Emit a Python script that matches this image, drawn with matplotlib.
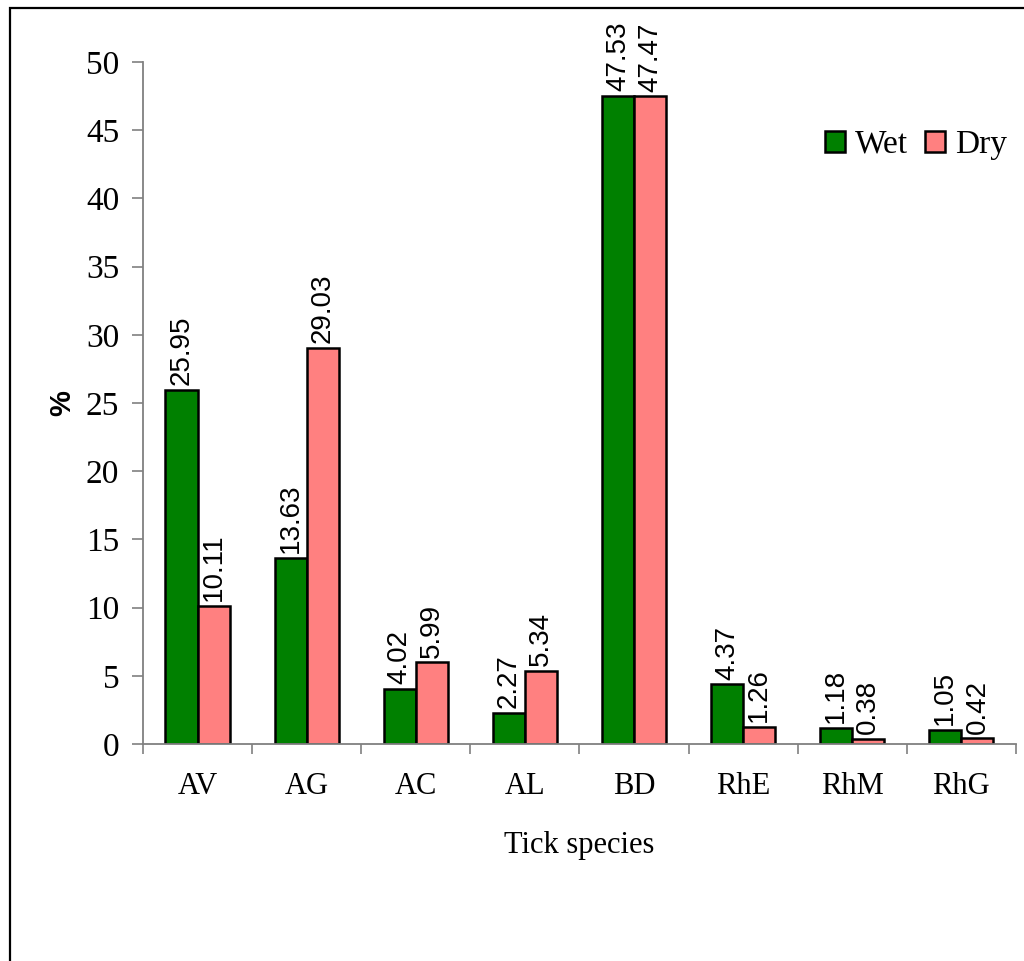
import numpy as np
import matplotlib.pyplot as plt
from matplotlib.patches import Rectangle

# Tick species prevalence by season
species = ['AV', 'AG', 'AC', 'AL', 'BD', 'RhE', 'RhM', 'RhG']
wet = [25.95, 13.63, 4.02, 2.27, 47.53, 4.37, 1.18, 1.05]
dry = [10.11, 29.03, 5.99, 5.34, 47.47, 1.26, 0.38, 0.42]

serif = 'Liberation Serif'
sans = 'Liberation Sans'

fig = plt.figure(figsize=(10.24, 9.61), dpi=100)
ax = fig.add_axes([0.1396, 0.2258, 0.8525, 0.7097])

centers = np.arange(len(species)) + 0.5
w = 0.294
ax.bar(centers - w / 2, wet, w, color='#008000', edgecolor='black', linewidth=1.8, label='Wet')
ax.bar(centers + w / 2, dry, w, color='#FF8080', edgecolor='black', linewidth=1.8, label='Dry')

# value labels above each bar
for x, v in zip(centers - w / 2, wet):
    ax.text(x, v + 0.35, f'{v:.2f}', rotation=90, ha='center', va='bottom',
            fontsize=20, family=sans)
for x, v in zip(centers + w / 2, dry):
    ax.text(x, v + 0.35, f'{v:.2f}', rotation=90, ha='center', va='bottom',
            fontsize=20, family=sans)

ax.set_xlim(0, len(species))
ax.set_ylim(0, 50)
ax.set_yticks(np.arange(0, 51, 5))
ax.set_yticklabels([str(t) for t in range(0, 51, 5)], family=serif, fontsize=24)
ax.tick_params(axis='y', length=8, width=1.2, color='#808080', pad=9)

# boundary ticks on the category axis, labels centred between them
ax.set_xticks(np.arange(len(species) + 1))
ax.set_xticklabels([])
ax.tick_params(axis='x', which='major', length=7, width=1.2, color='#808080')
ax.set_xticks(centers, minor=True)
ax.set_xticklabels(species, minor=True, family=serif, fontsize=22)
ax.tick_params(axis='x', which='minor', length=0, pad=20)

for s in ['top', 'right']:
    ax.spines[s].set_visible(False)
for s in ['left', 'bottom']:
    ax.spines[s].set_color('#808080')
    ax.spines[s].set_linewidth(1.3)

ax.set_xlabel('Tick species', family=serif, fontsize=22, labelpad=22)
ax.set_ylabel('%', family=sans, fontsize=21, fontweight='bold', labelpad=7)

leg = ax.legend(loc='upper right', bbox_to_anchor=(1.024, 0.945), frameon=False,
                ncol=2, prop={'family': serif, 'size': 24},
                handlelength=0.6, handleheight=0.6, handletextpad=0.3,
                columnspacing=0.5)

# outer border of the figure
fig.patches.append(Rectangle((10 / 1024, -0.1), 1.1, 1 - 8 / 961 + 0.1,
                             transform=fig.transFigure, fill=False,
                             edgecolor='black', linewidth=1.6))

fig.savefig('out.png', dpi=100, facecolor='white')
